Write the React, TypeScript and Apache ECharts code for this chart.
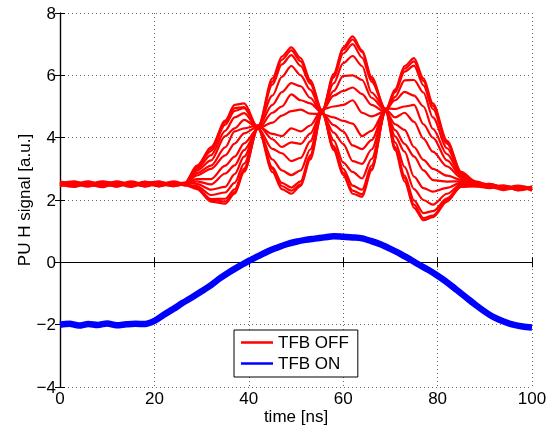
import React, { useEffect, useRef } from "react";
import * as echarts from "echarts";

// time samples (ns) for the TFB OFF traces
const redTime = [0, 3, 6, 9, 12, 15, 18, 21, 24, 26.5, 29, 32, 35, 37, 39, 42, 45, 47, 49, 51, 53, 55.5, 58, 60, 62, 64, 66, 69, 71, 73, 75, 77, 79, 82, 85, 88, 91, 94, 97, 100];

// TFB OFF traces (PU H signal, a.u.)
const off1 = [2.55, 2.45, 2.58, 2.5, 2.43, 2.56, 2.47, 2.58, 2.5, 2.55, 3.1, 3.65, 4.55, 5.05, 5.1, 4.3, 2.9, 2.35, 2.2, 2.45, 3.3, 4.8, 6.05, 6.9, 7.25, 6.8, 5.95, 4.85, 3.6, 2.6, 1.75, 1.35, 1.45, 1.95, 2.45, 2.5, 2.42, 2.32, 2.4, 2.33];
const off2 = [2.44, 2.58, 2.5, 2.41, 2.55, 2.45, 2.59, 2.44, 2.55, 2.48, 2.35, 1.95, 1.88, 2.2, 2.9, 4.35, 5.9, 6.6, 6.9, 6.55, 5.85, 4.85, 3.6, 2.8, 2.2, 2.1, 2.95, 4.9, 5.55, 6.3, 6.55, 5.9, 5.1, 3.9, 2.9, 2.6, 2.48, 2.45, 2.32, 2.43];
const off3 = [2.6, 2.51, 2.43, 2.58, 2.52, 2.42, 2.55, 2.5, 2.6, 2.52, 3.05, 3.7, 4.5, 4.95, 4.98, 4.28, 3.0, 2.45, 2.3, 2.5, 3.35, 4.78, 6.0, 6.82, 7.15, 6.75, 5.88, 4.9, 3.65, 2.7, 1.85, 1.42, 1.5, 2.0, 2.42, 2.44, 2.38, 2.46, 2.31, 2.39];
const off4 = [2.5, 2.42, 2.55, 2.49, 2.6, 2.51, 2.44, 2.56, 2.45, 2.5, 2.38, 2.0, 1.95, 2.25, 2.95, 4.32, 5.8, 6.5, 6.8, 6.45, 5.8, 4.88, 3.65, 2.88, 2.3, 2.18, 3.0, 4.86, 5.5, 6.22, 6.45, 5.82, 5.02, 3.85, 2.85, 2.55, 2.5, 2.35, 2.44, 2.3];
const off5 = [2.54, 2.6, 2.49, 2.52, 2.46, 2.6, 2.51, 2.45, 2.53, 2.56, 3.07, 3.57, 4.42, 4.86, 4.95, 4.3, 3.05, 2.55, 2.4, 2.6, 3.43, 4.85, 5.93, 6.7, 7.0, 6.57, 5.8, 4.9, 3.7, 2.78, 1.99, 1.58, 1.64, 2.05, 2.48, 2.49, 2.52, 2.39, 2.46, 2.37];
const off6 = [2.45, 2.52, 2.6, 2.45, 2.5, 2.56, 2.43, 2.52, 2.49, 2.53, 2.39, 2.03, 2.04, 2.34, 3.01, 4.36, 5.7, 6.35, 6.65, 6.3, 5.73, 4.8, 3.73, 3.0, 2.46, 2.33, 3.1, 4.85, 5.46, 6.12, 6.31, 5.68, 4.92, 3.81, 2.88, 2.56, 2.41, 2.45, 2.36, 2.42];
const off7 = [2.49, 2.44, 2.52, 2.6, 2.53, 2.45, 2.55, 2.6, 2.44, 2.51, 3.0, 3.44, 4.22, 4.65, 4.79, 4.28, 3.3, 2.95, 2.8, 2.95, 3.62, 4.86, 5.75, 6.39, 6.62, 6.3, 5.45, 4.92, 3.85, 3.06, 2.35, 2.0, 1.85, 2.2, 2.51, 2.46, 2.52, 2.4, 2.34, 2.43];
const off8 = [2.58, 2.5, 2.45, 2.53, 2.43, 2.55, 2.52, 2.44, 2.57, 2.47, 2.45, 2.16, 2.24, 2.55, 3.17, 4.38, 5.35, 5.95, 6.3, 6.0, 5.54, 4.8, 3.91, 3.2, 2.9, 2.69, 3.32, 4.84, 5.31, 5.84, 5.85, 5.45, 4.65, 3.66, 2.85, 2.5, 2.48, 2.36, 2.43, 2.38];
const off9 = [2.51, 2.55, 2.45, 2.5, 2.58, 2.49, 2.47, 2.53, 2.51, 2.49, 2.94, 3.27, 4.05, 4.3, 4.57, 4.31, 3.64, 3.5, 3.25, 3.35, 3.88, 4.88, 5.5, 5.98, 6.0, 5.85, 5.28, 4.86, 4.04, 3.55, 2.75, 2.38, 2.27, 2.39, 2.56, 2.53, 2.41, 2.46, 2.39, 2.35];
const off10 = [2.48, 2.53, 2.56, 2.46, 2.51, 2.47, 2.58, 2.5, 2.45, 2.54, 2.52, 2.33, 2.42, 2.83, 3.39, 4.35, 5.05, 5.46, 5.75, 5.65, 5.28, 4.78, 4.16, 3.8, 3.25, 3.16, 3.62, 4.9, 5.2, 5.47, 5.35, 5.0, 4.28, 3.47, 2.8, 2.48, 2.5, 2.41, 2.37, 2.4];
const off11 = [2.53, 2.48, 2.51, 2.55, 2.47, 2.52, 2.5, 2.56, 2.48, 2.53, 2.86, 3.1, 3.69, 4.2, 4.3, 4.4, 3.95, 3.7, 3.85, 3.8, 4.13, 4.85, 5.35, 5.5, 5.61, 5.4, 5.05, 4.82, 4.24, 3.8, 3.4, 2.95, 2.64, 2.59, 2.6, 2.44, 2.47, 2.42, 2.4, 2.34];
const off12 = [2.46, 2.57, 2.49, 2.52, 2.55, 2.46, 2.51, 2.48, 2.53, 2.47, 2.6, 2.5, 2.85, 3.11, 3.6, 4.28, 4.8, 5.0, 5.39, 5.2, 5.1, 4.8, 4.4, 4.2, 3.75, 3.63, 3.92, 4.94, 4.92, 5.0, 5.05, 4.43, 4.0, 3.27, 2.76, 2.51, 2.44, 2.4, 2.42, 2.38];
const off13 = [2.5, 2.54, 2.47, 2.49, 2.53, 2.57, 2.48, 2.51, 2.55, 2.5, 2.79, 3.0, 3.43, 3.81, 4.14, 4.36, 4.12, 4.05, 4.3, 4.2, 4.39, 4.9, 5.0, 5.05, 5.2, 4.8, 4.68, 4.85, 4.43, 4.25, 3.7, 3.29, 3.0, 2.78, 2.65, 2.47, 2.45, 2.44, 2.36, 2.41];
const off14 = [2.55, 2.47, 2.52, 2.45, 2.5, 2.53, 2.56, 2.49, 2.47, 2.52, 2.67, 2.67, 3.1, 3.39, 3.82, 4.3, 4.48, 4.71, 4.85, 4.9, 4.77, 4.76, 4.65, 4.54, 4.45, 4.05, 4.22, 4.9, 4.65, 4.8, 4.51, 3.97, 3.55, 3.08, 2.71, 2.53, 2.46, 2.39, 2.41, 2.36];

const offTraces = [off1, off2, off3, off4, off5, off6, off7, off8, off9, off10, off11, off12, off13, off14];

// TFB ON trace
const blueTime = [0, 2, 4, 6, 8, 10, 12, 14, 16, 18, 20, 22, 24, 26, 28, 30, 32, 34, 36, 38, 40, 42, 44, 46, 48, 50, 52, 54, 56, 58, 60, 62, 64, 66, 68, 70, 72, 74, 76, 78, 80, 82, 84, 86, 88, 90, 92, 94, 96, 98, 100];
const onTrace = [-2.0, -1.97, -2.03, -1.98, -2.01, -1.96, -2.02, -1.99, -1.97, -1.98, -1.88, -1.68, -1.5, -1.3, -1.12, -0.93, -0.73, -0.5, -0.3, -0.12, 0.05, 0.2, 0.35, 0.47, 0.58, 0.66, 0.72, 0.76, 0.8, 0.84, 0.82, 0.8, 0.77, 0.68, 0.57, 0.43, 0.28, 0.11, -0.07, -0.24, -0.43, -0.64, -0.88, -1.12, -1.36, -1.58, -1.77, -1.9, -2.0, -2.06, -2.09];

const legendNames = ["TFB OFF", "TFB ON"];
const xTicks = { min: 0, max: 100, interval: 20 };
const yTicks = { min: -4, max: 8, interval: 2 };

const FONT = "'Liberation Sans', Arial, Helvetica, sans-serif";

export default function App() {
  const ref = useRef<HTMLDivElement>(null);
  useEffect(() => {
    if (!ref.current) return;
    const chart = echarts.init(ref.current, undefined, { renderer: "svg" });
    const gridLine = { show: true, lineStyle: { type: [1, 3], color: "#666", width: 1 } };
    const axisLine = { show: true, lineStyle: { color: "#000", width: 1.2 } };
    const tick = { show: true, inside: true, length: 5, lineStyle: { color: "#000" } };
    const minus = (v: number) => String(v).replace("-", "\u2212");

    const redSeries = offTraces.map((tr) => ({
      name: legendNames[0],
      type: "line",
      data: tr.map((v, i) => [redTime[i], v]),
      showSymbol: false,
      symbol: "none",
      smooth: 0.3,
      smoothMonotone: "x",
      color: "#ff0000",
      lineStyle: { width: 2.2, color: "#ff0000" },
      z: 3,
    }));

    chart.setOption({
      animation: false,
      textStyle: { fontFamily: FONT },
      grid: { left: 60, top: 13, width: 472, height: 374, containLabel: false, outerBoundsMode: "none" },
      legend: {
        data: [
          { name: legendNames[0], icon: "rect" },
          { name: legendNames[1], icon: "rect" },
        ],
        orient: "vertical",
        left: 234,
        top: 330,
        itemWidth: 32,
        itemHeight: 2.5,
        itemGap: 4,
        padding: [4, 9, 5, 7],
        borderColor: "#000",
        borderWidth: 1,
        backgroundColor: "#fff",
        selectedMode: false,
        textStyle: { fontSize: 17, color: "#000", fontFamily: FONT },
      },
      xAxis: [
        {
          type: "value",
          position: "bottom",
          ...xTicks,
          axisLine,
          axisTick: tick,
          splitLine: gridLine,
          axisLabel: { fontSize: 17, color: "#000", margin: 3, fontFamily: FONT },
          name: "time [ns]",
          nameLocation: "middle",
          nameGap: 21,
          nameMoveOverlap: false,
          nameTextStyle: { fontSize: 17, color: "#000", fontFamily: FONT },
        },
        {
          type: "value",
          position: "top",
          ...xTicks,
          axisLine,
          axisTick: tick,
          splitLine: { show: false },
          axisLabel: { show: false },
        },
      ],
      yAxis: [
        {
          type: "value",
          position: "left",
          ...yTicks,
          axisLine,
          axisTick: tick,
          splitLine: gridLine,
          axisLabel: { fontSize: 17, color: "#000", margin: 4, fontFamily: FONT, formatter: minus },
          name: "PU H signal [a.u.]",
          nameLocation: "middle",
          nameGap: 27,
          nameMoveOverlap: false,
          nameTextStyle: { fontSize: 17, color: "#000", fontFamily: FONT },
        },
        {
          type: "value",
          position: "right",
          ...yTicks,
          axisLine,
          axisTick: tick,
          splitLine: { show: false },
          axisLabel: { show: false },
        },
      ],
      series: [
        ...redSeries,
        {
          name: legendNames[1],
          type: "line",
          data: onTrace.map((v, i) => [blueTime[i], v]),
          showSymbol: false,
          symbol: "none",
          smooth: 0.3,
          color: "#0000ff",
          lineStyle: { width: 6.5, color: "#0000ff" },
          z: 3,
        },
      ],
    });
    return () => chart.dispose();
  }, []);
  return <div ref={ref} style={{ position: "fixed", left: 0, top: 0, width: 552, height: 426 }} />;
}
